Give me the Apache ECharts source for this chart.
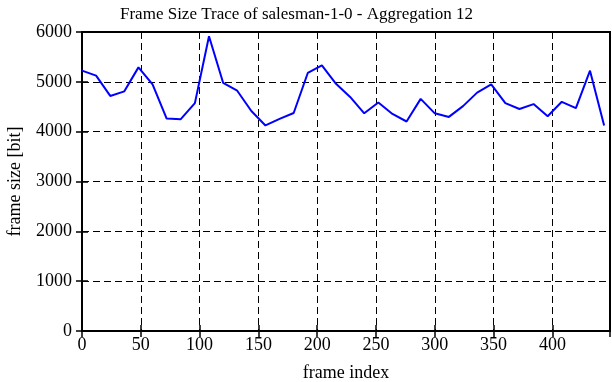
<!DOCTYPE html>
<html>
<head>
<meta charset="utf-8">
<script src="https://cdn.jsdelivr.net/npm/echarts@6/dist/echarts.min.js"></script>
<style>html,body{margin:0;padding:0;background:#fff}#c{width:612px;height:382px}</style>
</head>
<body>
<div id="c"></div>
<script>
var frameIndex = [0,12,24,36,48,60,72,84,96,108,120,132,144,156,168,180,192,204,216,228,240,252,264,276,288,300,312,324,336,348,360,372,384,396,408,420,432,444];
var frameSize = [5224,5125,4717,4809,5290,4947,4263,4250,4572,5915,4980,4822,4414,4125,4257,4375,5178,5329,4960,4697,4368,4585,4355,4204,4658,4368,4296,4513,4783,4947,4572,4454,4553,4309,4599,4474,5224,4125];
var xTicks = [0,50,100,150,200,250,300,350,400];
var yTicks = [0,1000,2000,3000,4000,5000,6000];

var FONT = 'Liberation Serif';
var pts = frameIndex.map(function(x,i){return [x, frameSize[i]];});
var chart = echarts.init(document.getElementById('c'), null, {renderer:'canvas'});
var tickStyle = {show:true, inside:true, length:6, lineStyle:{color:'#000', width:1.5}};
chart.setOption({
  animation:false,
  backgroundColor:'#fff',
  title:{text:'Frame Size Trace of salesman-1-0 - Aggregation 12', left:115, top:1,
    textStyle:{fontFamily:FONT, fontSize:17, fontWeight:'normal', color:'#000'}},
  grid:{left:82, right:2, top:32, bottom:51, show:true, borderColor:'#000', borderWidth:2,
    backgroundColor:'transparent', containLabel:false, outerBoundsMode:'none'},
  xAxis:[{
    type:'value', min:0, max:449, interval:50, position:'bottom',
    name:'frame index', nameLocation:'middle', nameGap:33,
    nameTextStyle:{fontFamily:FONT, fontSize:18, color:'#000'},
    axisLine:{show:true, lineStyle:{color:'#000', width:2}},
    axisTick:tickStyle,
    axisLabel:{fontFamily:FONT, fontSize:18, color:'#000', margin:5, showMaxLabel:false,
      formatter:function(v){return xTicks.indexOf(v)>=0?String(v):'';}},
    splitLine:{show:true, lineStyle:{color:'#000', width:1, type:[7,4]}}
  },{
    type:'value', min:0, max:449, interval:50, position:'top',
    axisLine:{show:true, lineStyle:{color:'#000', width:2}},
    axisTick:tickStyle, axisLabel:{show:false}, splitLine:{show:false}
  }],
  yAxis:[{
    type:'value', min:0, max:6000, interval:1000, position:'left',
    name:'frame size [bit]', nameLocation:'middle', nameGap:58, nameRotate:90,
    nameTextStyle:{fontFamily:FONT, fontSize:18, color:'#000'},
    axisLine:{show:true, lineStyle:{color:'#000', width:2}},
    axisTick:tickStyle,
    axisLabel:{fontFamily:FONT, fontSize:18, color:'#000', margin:10,
      formatter:function(v){return yTicks.indexOf(v)>=0?String(v):'';}},
    splitLine:{show:true, lineStyle:{color:'#000', width:1, type:[7,4]}}
  },{
    type:'value', min:0, max:6000, interval:1000, position:'right',
    axisLine:{show:true, lineStyle:{color:'#000', width:2}},
    axisTick:tickStyle, axisLabel:{show:false}, splitLine:{show:false}
  }],
  series:[{
    type:'line', data:pts, showSymbol:false, symbol:'none',
    lineStyle:{color:'#0000ff', width:2}, z:5
  }]
});
</script>
</body>
</html>
